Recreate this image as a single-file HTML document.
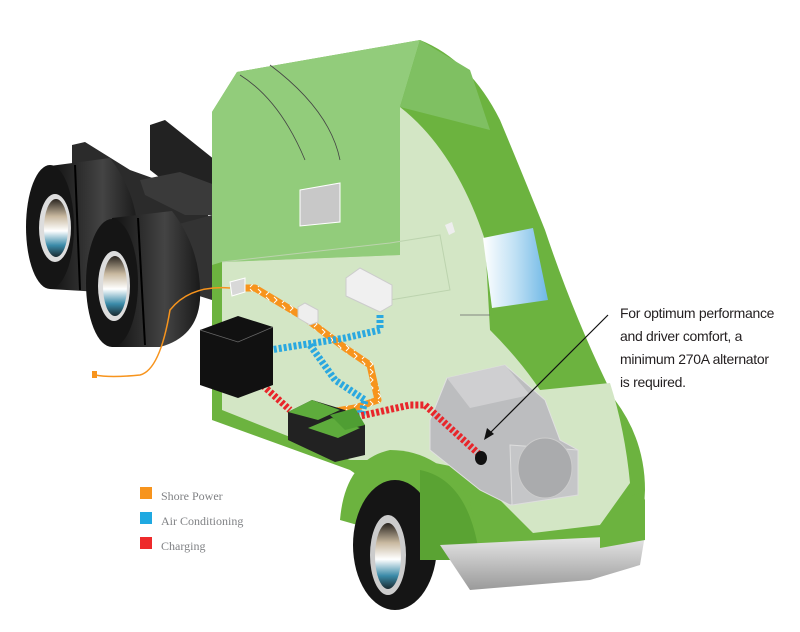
<!DOCTYPE html>
<html><head><meta charset="utf-8"><style>
html,body{margin:0;padding:0;background:#fff;width:800px;height:632px;overflow:hidden}
svg{display:block}
</style></head><body>
<svg width="800" height="632" viewBox="0 0 800 632" xmlns="http://www.w3.org/2000/svg">
<defs>
<linearGradient id="hub" x1="0" y1="0" x2="0" y2="1">
<stop offset="0" stop-color="#2a2520"/><stop offset="0.3" stop-color="#c9b9a0"/><stop offset="0.55" stop-color="#ffffff"/><stop offset="0.8" stop-color="#3a8aa8"/><stop offset="1" stop-color="#1a2a30"/></linearGradient>
<linearGradient id="tire" x1="0" y1="0" x2="1" y2="0">
<stop offset="0" stop-color="#111"/><stop offset="0.6" stop-color="#444"/><stop offset="1" stop-color="#1a1a1a"/></linearGradient>
<linearGradient id="bump" x1="0" y1="0" x2="0" y2="1">
<stop offset="0" stop-color="#e8e8e8"/><stop offset="1" stop-color="#9a9a9a"/></linearGradient>
<linearGradient id="win" x1="0" y1="0" x2="1" y2="0">
<stop offset="0" stop-color="#fff"/><stop offset="0.5" stop-color="#bfe0f4"/><stop offset="1" stop-color="#6fb8e6"/></linearGradient>
<pattern id="po" width="8" height="8" patternUnits="userSpaceOnUse"><rect width="8" height="8" fill="#f7941d"/><path d="M2 1 L5 4 L2 7" stroke="#fff" stroke-width="1" fill="none"/></pattern>
</defs>

<polygon points="150,125 165,120 215,160 215,200 195,205 150,170" fill="#222"/>
<polygon points="72,145 85,142 130,170 200,195 210,220 180,250 110,240 72,170" fill="#2b2b2b"/>
<polygon points="140,180 180,172 215,185 215,215 185,215 145,195" fill="#3a3a3a"/>
<polygon points="175,225 212,215 212,300 180,290" fill="#333"/>

<path d="M50,166 L110,158 Q142,200 137,250 Q132,282 100,292 L50,289 Z" fill="url(#tire)"/>
<ellipse cx="50" cy="227" rx="24" ry="62" fill="#151515"/>
<ellipse cx="55" cy="228" rx="16" ry="34" fill="#ddd"/>
<ellipse cx="56" cy="228" rx="12" ry="29" fill="url(#hub)"/>
<line x1="75" y1="165" x2="80" y2="290" stroke="#000" stroke-width="2"/>

<path d="M112,218 L172,211 Q202,250 200,300 Q197,337 160,347 L112,347 Z" fill="url(#tire)"/>
<ellipse cx="112" cy="283" rx="26" ry="64" fill="#151515"/>
<ellipse cx="114" cy="286" rx="16" ry="35" fill="#ddd"/>
<ellipse cx="115" cy="286" rx="12" ry="30" fill="url(#hub)"/>
<line x1="138" y1="218" x2="145" y2="345" stroke="#000" stroke-width="2"/>

<path d="M237,72 L420,40 Q470,60 500,120 Q525,180 545,230 Q575,320 615,400 Q645,440 645,490 L642,548 L480,560 L350,470 L212,420 L212,112 Z" fill="#6cb33f"/>
<polygon points="212,112 237,72 420,40 400,107 400,255 222,262 212,265" fill="#92cc7b"/>
<polygon points="420,40 470,70 490,130 400,107" fill="#7fc062"/>
<path d="M222,262 L400,255 L400,107 Q455,150 485,240 L490,330 Q520,360 540,390 L610,383 Q625,430 630,483 L600,525 L533,533 L470,470 L420,460 L350,460 L285,435 L222,410 Z" fill="#d3e6c5"/>
<polygon points="483,238 533,228 548,300 492,308" fill="url(#win)"/>
<path d="M240,75 Q280,100 305,160" stroke="#444" stroke-width="0.8" fill="none"/>
<path d="M270,65 Q330,110 340,160" stroke="#444" stroke-width="0.8" fill="none"/>
<line x1="460" y1="315" x2="490" y2="315" stroke="#666" stroke-width="0.8"/>
<polygon points="300,190 340,183 340,222 300,226" fill="#c8c8c8" stroke="#fff"/>
<polygon points="445,225 452,222 455,232 449,235" fill="#eee"/>
<path d="M222,262 L390,243 L440,235 L450,290 L390,300" stroke="#bcd3ae" fill="none"/>

<path d="M340,520 Q345,460 390,450 Q440,450 470,500 L480,560 Z" fill="#6cb33f"/>
<ellipse cx="395" cy="545" rx="42" ry="65" fill="#151515"/>
<ellipse cx="388" cy="555" rx="18" ry="40" fill="#ccc"/>
<ellipse cx="388" cy="556" rx="13" ry="33" fill="url(#hub)"/>
<path d="M420,470 Q470,480 480,560 L420,560 Z" fill="#5aa333"/>
<path d="M440,545 L645,535 L640,565 L590,580 L470,590 Z" fill="url(#bump)"/>
<path d="M600,525 Q640,480 645,500 L645,540 L600,548 Z" fill="#6cb33f"/>

<polygon points="430,420 447,378 505,365 545,400 560,440 578,450 578,495 510,505 480,490 430,450" fill="#bcbdbf" stroke="#e0e0e0"/>
<polygon points="447,378 505,365 530,395 470,408" fill="#cfcfd1"/>
<polygon points="510,445 578,450 578,495 512,505" fill="#c5c6c8" stroke="#ddd"/>
<ellipse cx="545" cy="468" rx="27" ry="30" fill="#aaabad" stroke="#ccc"/>

<polyline points="240,288 255,288 305,318 345,348 370,365 378,400 355,408 330,412" stroke="url(#po)" stroke-width="7" fill="none" stroke-linejoin="round"/>
<polyline points="380,315 380,330 345,338 270,350" stroke="#2aa8e0" stroke-width="7" fill="none" stroke-dasharray="3 2"/>
<polyline points="310,345 335,380 365,400 362,413 335,418" stroke="#2aa8e0" stroke-width="7" fill="none" stroke-dasharray="3 2"/>
<polyline points="248,372 290,410" stroke="#e8262b" stroke-width="7" fill="none" stroke-dasharray="3 2"/>
<polyline points="342,420 410,405 425,405 480,455" stroke="#e8262b" stroke-width="7" fill="none" stroke-dasharray="3 2"/>
<ellipse cx="481" cy="458" rx="6" ry="7" fill="#111"/>

<line x1="608" y1="315" x2="488" y2="435" stroke="#111" stroke-width="1.2"/>
<polygon points="484,440 487,428 494,434" fill="#111"/>

<polygon points="346,278 360,268 392,285 392,305 380,312 346,296" fill="#f0f0f0" stroke="#ccc"/>
<polygon points="298,307 305,303 318,310 318,322 310,325 298,318" fill="#eee" stroke="#ccc"/>
<polygon points="230,282 245,278 245,292 232,296" fill="#d8d8d8" stroke="#fff"/>

<polygon points="200,330 238,316 273,327 273,385 238,398 200,385" fill="#111"/>
<polyline points="200,330 238,342 273,327 M238,342 L238,398" stroke="#666" stroke-width="0.8" fill="none"/>

<polygon points="288,412 312,400 345,410 365,425 365,455 335,462 288,440" fill="#222"/>
<polygon points="288,412 312,400 340,410 318,420" fill="#5eac3c"/>
<polygon points="308,428 332,418 360,428 338,438" fill="#5eac3c"/>
<polygon points="330,415 355,408 365,425 345,430" fill="#4f9e33"/>

<path d="M230,288 Q190,285 170,310 Q160,370 140,375 Q110,378 95,375" stroke="#f7941d" stroke-width="1.5" fill="none"/>
<rect x="92" y="371" width="5" height="7" fill="#f7941d"/>

<g font-family="Liberation Sans, sans-serif" font-size="14" fill="#231f20" letter-spacing="-0.3">
<text x="620" y="318">For optimum performance</text>
<text x="620" y="341">and driver comfort, a</text>
<text x="620" y="364">minimum 270A alternator</text>
<text x="620" y="387">is required.</text>
</g>
<g font-family="Liberation Serif, serif" font-size="12" fill="#808285">
<rect x="140" y="487" width="12" height="12" fill="#f7941d"/><text x="161" y="500">Shore Power</text>
<rect x="140" y="512" width="12" height="12" fill="#1fa9e1"/><text x="161" y="525">Air Conditioning</text>
<rect x="140" y="537" width="12" height="12" fill="#ee2a2b"/><text x="161" y="550">Charging</text>
</g>
</svg>
</body></html>
